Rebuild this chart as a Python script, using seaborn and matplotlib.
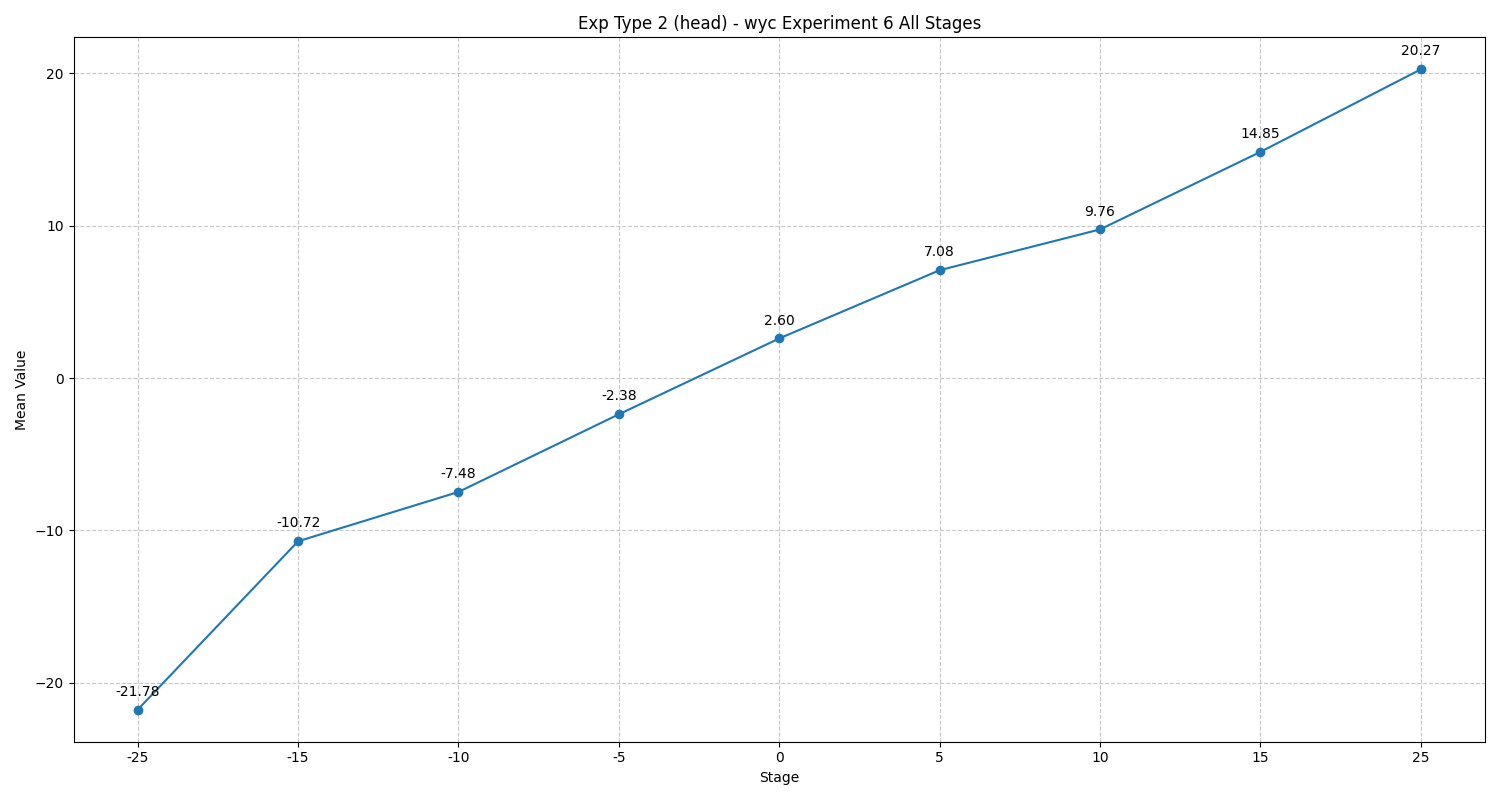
import matplotlib
matplotlib.use("Agg")
import matplotlib.pyplot as plt
import pandas as pd
import seaborn as sns

stages = ["-25", "-15", "-10", "-5", "0", "5", "10", "15", "25"]
mean_values = [-21.78, -10.72, -7.48, -2.38, 2.60, 7.08, 9.76, 14.85, 20.27]

df = pd.DataFrame({"Stage": stages, "Mean Value": mean_values})

fig, ax = plt.subplots(figsize=(15, 8), dpi=100)
sns.lineplot(data=df, x="Stage", y="Mean Value", marker="o", markersize=7,
             markeredgewidth=0, color="#1f77b4", sort=False, ax=ax)

for i, v in enumerate(mean_values):
    ax.annotate(f"{v:.2f}", (i, v), textcoords="offset points", xytext=(0, 10),
                ha="center", fontsize=10)

ax.set_title("Exp Type 2 (head) - wyc Experiment 6 All Stages")
ax.set_xlabel("Stage")
ax.set_ylabel("Mean Value")
ax.grid(True, linestyle="--", alpha=0.7)

plt.tight_layout()
plt.savefig("out.png")
